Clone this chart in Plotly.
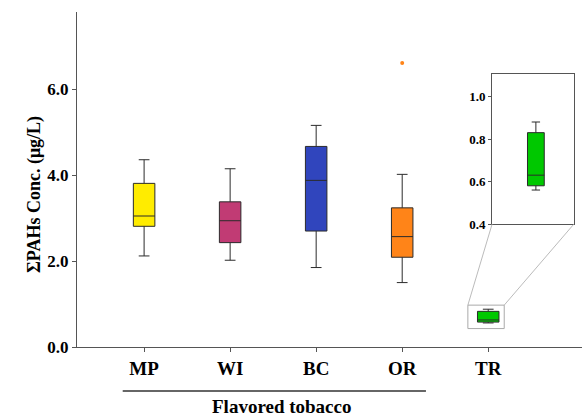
import plotly.graph_objects as go

# ---- data ----
categories = ["MP", "WI", "BC", "OR", "TR"]
lower = [2.12, 2.02, 1.85, 1.50, 0.56]
q1 = [2.81, 2.43, 2.70, 2.09, 0.58]
median = [3.05, 2.94, 3.88, 2.57, 0.63]
q3 = [3.81, 3.38, 4.67, 3.24, 0.83]
upper = [4.36, 4.15, 5.16, 4.02, 0.88]
fills = ["#FFEC00", "#C13B74", "#3045BD", "#FF8418", "#00C800"]
outlier_cat = ["OR"]
outlier_val = [6.61]

y_ticks = [0, 2, 4, 6]
inset_ticks = [0.4, 0.6, 0.8, 1.0]

FONT = "Liberation Serif, Times New Roman, serif"
AX = "#555555"

fig = go.Figure()
for i, c in enumerate(categories):
    fig.add_trace(go.Box(
        x=[c], q1=[q1[i]], median=[median[i]], q3=[q3[i]],
        lowerfence=[lower[i]], upperfence=[upper[i]],
        fillcolor=fills[i], line=dict(color="#2b2b2b", width=1),
        width=0.25, whiskerwidth=0.5, boxpoints=False, showlegend=False,
        xaxis="x", yaxis="y"))

fig.add_trace(go.Scatter(x=outlier_cat, y=outlier_val, mode="markers",
                         marker=dict(color="#FF8418", size=4),
                         showlegend=False, xaxis="x", yaxis="y"))

# inset (TR zoom)
fig.add_trace(go.Box(
    x=[categories[4]], q1=[q1[4]], median=[median[4]], q3=[q3[4]],
    lowerfence=[lower[4]], upperfence=[upper[4]],
    fillcolor=fills[4], line=dict(color="#2b2b2b", width=1),
    width=0.41, whiskerwidth=0.5, boxpoints=False, showlegend=False,
    xaxis="x2", yaxis="y2"))

fig.update_layout(
    width=582, height=417,
    margin=dict(l=77, r=0, t=12, b=70),
    paper_bgcolor="white", plot_bgcolor="white",
    font=dict(family=FONT, color="black"),
    xaxis=dict(
        type="category", categoryorder="array", categoryarray=categories,
        range=[-0.78, 5.09], showline=True, linecolor=AX, linewidth=1,
        ticks="outside", ticklen=4, tickcolor=AX, showgrid=False, zeroline=False,
        tickfont=dict(family=FONT, size=19, weight="bold", color="black"),
        domain=[0, 1]),
    yaxis=dict(
        range=[0, 7.8], tickvals=y_ticks, tickformat=".1f",
        showline=True, linecolor=AX, linewidth=1, ticks="outside", ticklen=4,
        tickcolor=AX, showgrid=False, zeroline=False,
        tickfont=dict(family=FONT, size=17, weight="bold", color="black")),
    xaxis2=dict(
        type="category", domain=[0.822, 0.984], anchor="y2",
        range=[-1.07, 0.93], showticklabels=False, ticks="",
        showline=True, mirror=True, linecolor=AX, linewidth=1,
        showgrid=False, zeroline=False),
    yaxis2=dict(
        domain=[0.367, 0.815], anchor="x2", range=[0.4, 1.106],
        tickvals=inset_ticks, tickformat=".1f", ticks="outside", ticklen=3,
        tickcolor=AX, showline=True, mirror=True, linecolor=AX, linewidth=1,
        showgrid=False, zeroline=False,
        tickfont=dict(family=FONT, size=13, weight="bold", color="black")),
)

# zoom rectangle and connector lines
fig.add_shape(type="rect", xref="paper", yref="paper",
              x0=0.774, x1=0.846, y0=0.055, y1=0.125,
              line=dict(color="#aaaaaa", width=1))
fig.add_shape(type="line", xref="paper", yref="paper",
              x0=0.774, y0=0.125, x1=0.822, y1=0.367,
              line=dict(color="#aaaaaa", width=0.8))
fig.add_shape(type="line", xref="paper", yref="paper",
              x0=0.846, y0=0.125, x1=0.984, y1=0.367,
              line=dict(color="#aaaaaa", width=0.8))

# flavored tobacco bracket
fig.add_shape(type="line", xref="paper", yref="paper",
              x0=0.0905, x1=0.691, y0=-0.131, y1=-0.131,
              line=dict(color="#666666", width=2))
fig.add_annotation(text="Flavored tobacco", xref="paper", yref="paper",
                   x=0.405, y=-0.215, showarrow=False,
                   font=dict(family=FONT, size=19, weight="bold", color="black"))

fig.add_annotation(text="ΣPAHs Conc. (μg/L)", xref="paper", yref="paper",
                   x=-0.109, y=0.455, textangle=-90, showarrow=False,
                   font=dict(family=FONT, size=18, weight="bold", color="black"))

fig.write_html("out.html")
